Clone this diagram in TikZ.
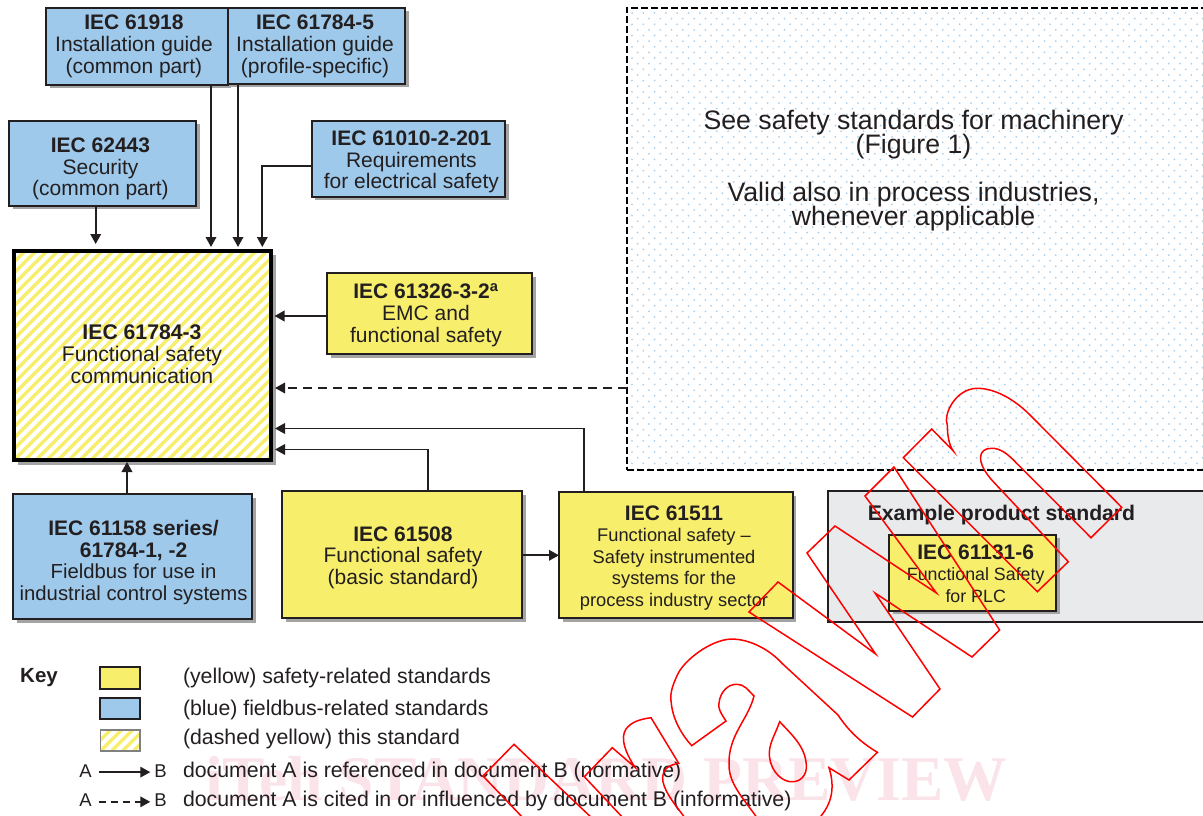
\documentclass[tikz,border=0pt]{standalone}
\usepackage{fontspec}
\setmainfont{Liberation Sans}
\usetikzlibrary{arrows.meta,shadows}
\definecolor{ylw}{HTML}{F7EE6C}
\definecolor{blu}{HTML}{9EC9EB}
\definecolor{ink}{HTML}{231F20}
\definecolor{shd}{HTML}{A4A4A4}
\definecolor{gbox}{HTML}{E9EAEC}
\definecolor{dotc}{HTML}{A9D0EE}
\definecolor{pinkw}{HTML}{FAE3E9}
\newcommand\tx[3]{\raisebox{\dimexpr-#2pt-.39em\relax}[0pt][0pt]{\makebox[0pt][c]{\hspace{\dimexpr#1pt*2\relax}\begin{tabular}[c]{@{}c@{}}#3\end{tabular}}}}
\newcommand\sm{\fontsize{18.3}{21.6}\selectfont}
\newcommand\smm{\fontsize{17.8}{21.6}\selectfont}
\newcommand\mdf{\fontsize{20.3}{21.6}\selectfont}
\tikzset{
  x=1pt,y=-1pt,
  stdbox/.style={draw=ink,line width=2pt,inner sep=0pt,outer sep=0pt,text=ink,
    font=\fontsize{21}{21.6}\selectfont,
    general shadow={fill=shd,shadow xshift=3.5pt,shadow yshift=-3.5pt}},
  yellowbox/.style={stdbox,fill=ylw},
  bluebox/.style={stdbox,fill=blu},
  sz/.style 2 args={minimum width=#1pt,minimum height=#2pt},
  conn/.style={draw=ink,line width=1.8pt,-{Triangle[length=10pt,width=10.5pt]}},
  hatchline/.style={draw=ylw,line width=3.3pt},
  txt/.style={inner sep=0pt,outer sep=0pt,text=ink,font=\fontsize{21.3}{22}\selectfont,anchor=base west},
  ab/.style={inner sep=0pt,outer sep=0pt,text=ink,font=\fontsize{18.5}{20}\selectfont,anchor=base west},
  outl/.style={draw=red,line width=1.5pt,line join=miter},
}
\begin{document}
\begin{tikzpicture}
\useasboundingbox (0,0) rectangle (1203,816);
% watermark text
\node[inner sep=0pt,text=pinkw,anchor=base west,font=\fontsize{63.6}{64}\selectfont\fontspec{Liberation Serif}\bfseries] (wm) at (205,800) {iTeh STANDARD PREVIEW};

% dashed region with dots
\foreach \r in {0,...,81}{
  \pgfmathsetmacro\xs{632+mod(\r,2)*5.65}
  \pgfmathsetmacro\ys{13+\r*5.63}
  \draw[dotc,line width=2pt,line cap=round,dash pattern=on 0pt off 11.3pt] (\xs,\ys) -- (1210,\ys);
}
\node[draw=black,line width=2pt,dash pattern=on 7pt off 3pt,inner sep=0pt,outer sep=0pt,sz={600}{461.5},anchor=north west] (machinery) at (626.5,8) {};
\node[inner sep=0pt,text=ink,font=\fontsize{26.7}{24}\selectfont] (see) at (913.5,169) {\tx{0}{0}{\smash{See safety standards for machinery}\\\smash{(Figure 1)}\\[24pt]\smash{Valid also in process industries,}\\\smash{whenever applicable}}};

% grey product box
\node[draw=ink,line width=2pt,fill=gbox,inner sep=0pt,outer sep=0pt,sz={400}{131},anchor=north west] (product) at (828,491) {};
\node[inner sep=0pt,text=ink,font=\fontsize{21.2}{22}\selectfont\bfseries,anchor=base] (prodlab) at (1001.5,520) {Example product standard};

% main box with hatching
\fill[shd] (18,255) rectangle (276,465);
\fill[white] (14,251) rectangle (271,460);
\begin{scope}
\clip (14,251) rectangle (271,460);
\foreach \k in {-20,...,25}{ \draw[hatchline] ({14+\k*11},460) -- ++(215,-215); }
\end{scope}
\node[draw=black,line width=4.5pt,inner sep=0pt,outer sep=0pt,text=ink,sz={257}{209},font=\fontsize{21.2}{21.6}\selectfont] (main) at (142.5,355.5)
  {\tx{-.5}{-1.7}{\textbf{IEC 61784-3}\\Functional safety\\communication}};

% standards
\node[bluebox,sz={181.5}{77}] (a) at (136.75,46.5) {\tx{-2.75}{-2.2}{\textbf{IEC 61918}\\Installation guide\\(common part)}};
\node[bluebox,sz={177.5}{76}] (b) at (316.25,46) {\tx{-1.2}{-1.7}{\textbf{IEC 61784-5}\\Installation guide\\(profile-specific)}};
\node[bluebox,sz={187}{85}] (c) at (102.5,163.2) {\tx{-2}{3.5}{\textbf{IEC 62443}\\Security\\(common part)}};
\node[bluebox,sz={193.3}{76}] (d) at (408.4,158.7) {\tx{3}{1}{\textbf{IEC 61010-2-201}\\Requirements\\for electrical safety}};
\node[yellowbox,sz={205}{81}] (e) at (429.5,313.5) {\tx{-3.5}{-.5}{\textbf{IEC 61326-3-2\textsuperscript{a}}\\EMC and\\functional safety}};
\node[bluebox,sz={239}{125.3}] (f) at (132.8,556.7) {\tx{.8}{4}{\textbf{IEC 61158 series/}\\\textbf{61784-1, -2}\\\mdf Fieldbus for use in\\\mdf industrial control systems}};
\node[yellowbox,sz={240}{127}] (g) at (402,554.5) {\tx{1}{1}{\textbf{IEC 61508}\\Functional safety\\(basic standard)}};
\node[yellowbox,sz={233.6}{126}] (h) at (675.8,555.3) {\tx{-1.8}{.7}{\textbf{IEC 61511}\\\sm Functional safety --\\\sm Safety instrumented\\\sm systems for the\\\sm process industry sector}};
\node[yellowbox,sz={166.6}{75.7}] (i) at (972.7,572.8) {\tx{3}{.7}{\textbf{IEC 61131-6}\\\smm Functional Safety\\\smm for PLC}};

% connectors
\coordinate (xc) at (95.7,0);
\coordinate (xa) at (211,0);
\coordinate (xb) at (238,0);
\coordinate (xd) at (262.3,0);
\coordinate (xf) at (127,0);
\coordinate (xg) at (428,0);
\coordinate (xh) at (584,0);
\coordinate (ye) at (0,316);
\coordinate (ym) at (0,388);
\coordinate (yh) at (0,428.5);
\coordinate (yg) at (0,449.5);
\coordinate (yd) at (0,166);
\draw[conn,shorten >=7pt] (c.south -| xc) -- (main.north -| xc);
\draw[conn,shorten >=4pt] (a.south -| xa) -- (main.north -| xa);
\draw[conn,shorten >=4pt] (b.south -| xb) -- (main.north -| xb);
\draw[conn,shorten >=4pt] (d.west |- yd) -| (main.north -| xd);
\draw[conn,shorten >=3.5pt] (e.west |- ye) -- (main.east |- ye);
\draw[conn,shorten >=4pt,dash pattern=on 9pt off 6pt] (machinery.west |- ym) -- (main.east |- ym);
\draw[conn,shorten >=4pt] (h.north -| xh) |- (main.east |- yh);
\draw[conn,shorten >=4pt] (g.north -| xg) |- (main.east |- yg);
\draw[conn,shorten >=2pt] (f.north -| xf) -- (main.south -| xf);
\draw[conn] (g.east |- h.center) -- (h.west);

% key
\node[inner sep=0pt,text=ink,font=\fontsize{20.5}{22}\selectfont\bfseries,anchor=base west] (keylab) at (20,682) {Key};
\node[draw=ink,line width=2pt,fill=ylw,inner sep=0pt,sz={40}{22}] (k1) at (120,678) {};
\node[draw=ink,line width=2pt,fill=blu,inner sep=0pt,sz={40}{21.5}] (k2) at (120,708.7) {};
\begin{scope}
\clip (100.5,730) rectangle (140,751);
\foreach \k in {-2,...,5}{ \draw[ylw,line width=3.5pt] ({100.5+\k*11},751) -- ++(22,-22); }
\end{scope}
\node[draw=gray,line width=1.2pt,inner sep=0pt,sz={39.5}{21}] (k3) at (120.25,740.5) {};
\node[txt] (t1) at (183,683.5) {(yellow) safety-related standards};
\node[txt] (t2) at (183,715.5) {(blue) fieldbus-related standards};
\node[txt] (t3) at (183,744.5) {(dashed yellow) this standard};
\node[txt] (t4) at (183,777.5) {document A is referenced in document B (normative)};
\node[txt] (t5) at (183,806.7) {document A is cited in or influenced by document B (informative)};
\node[ab] (la1) at (79.3,777) {A};
\node[ab] (lb1) at (154.3,777) {B};
\node[ab] (la2) at (79.3,806.7) {A};
\node[ab] (lb2) at (154.3,806.7) {B};
\draw[conn,shorten <=7pt,shorten >=4pt] ([yshift=-1.5pt]la1.east) -- ([yshift=-1.5pt]lb1.west);
\draw[conn,shorten <=7pt,shorten >=4pt,dash pattern=on 7pt off 5pt] ([yshift=-1.5pt]la2.east) -- ([yshift=-1.5pt]lb2.west);

% outlined watermark letters
\draw[outl] (525,820) -- (483,776) -- (514,744.3) -- (594,820);
\draw[outl] (625,820) -- (584.3,776.7) -- (612.3,747.7) -- (635,767.3) .. controls (625,752) and (620,738) .. (626,729) .. controls (632,721) and (642,719) .. (651,717.7) -- (678.7,763.3) .. controls (668,765) and (661,770) .. (663,782) .. controls (666,795) and (678,808) .. (688,822);
\draw[outl] (691.7,745.7) -- (726,721) .. controls (720,712) and (718,708) .. (719,703.3) .. controls (720,692) and (728,684) .. (736.7,684.3) .. controls (744,684) and (748,690) .. (754,696) .. controls (748,720) and (728,735) .. (729,765) .. controls (729,785) and (745,800) .. (760,822) -- (815,826) -- (821,816) .. controls (830,805) and (836,790) .. (829,767.7) -- (849,780) -- (877.4,752.3) .. controls (860,742) and (848,730) .. (838,715) -- (782,663.3) .. controls (770,650) and (750,639) .. (731.3,639) .. controls (710,640) and (685,660) .. (678.2,673.3) .. controls (671,688) and (670,695) .. (671.3,703.3) .. controls (673,720) and (682,735) .. (691.7,745.7) -- cycle;
\draw[outl] (779.7,721.7) .. controls (775,735) and (768,745) .. (769.5,756.7) .. controls (771,772) and (783,783) .. (793.5,781.7) .. controls (803,781) and (808,772) .. (806,762) .. controls (804,745) and (790,733) .. (779.7,721.7) -- cycle;
\draw[outl] (778,582) -- (749,612) -- (912.5,717) -- (940,689) -- (875,593) -- (972,657) -- (999.6,630) -- (894,467) -- (865,496) -- (936.4,593) -- (835,526) -- (807,553) -- (875.6,654) -- cycle;
\draw[outl] (903.3,457.7) -- (1037.3,591.7) -- (1068.3,561.7) -- (993.3,481.7) .. controls (975,462) and (978,448) .. (991.7,448.3) .. controls (1000,448) and (1008,454) .. (1016.7,463.3) -- (1091,537.7) -- (1121.7,507.3) -- (1030,415) .. controls (1010,395) and (990,388) .. (976.7,388.3) .. controls (955,389) and (943,415) .. (947.3,425) .. controls (947.3,435) and (949,445) .. (953.3,451) -- (931.7,429) -- cycle;
\end{tikzpicture}
\end{document}
